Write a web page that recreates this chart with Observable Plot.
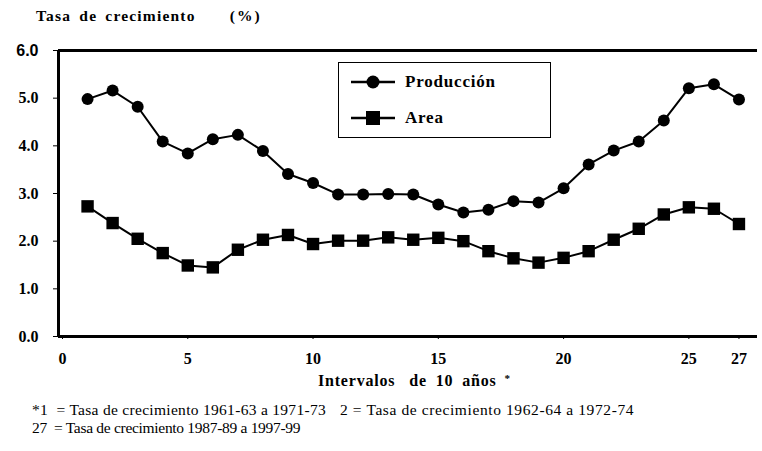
<!DOCTYPE html>
<html>
<head>
<meta charset="utf-8">
<script src="https://cdn.jsdelivr.net/npm/d3@7"></script>
<script src="https://cdn.jsdelivr.net/npm/@observablehq/plot@0.6"></script>
<style>
  body { margin: 0; background: #fff; }
  #wrap { position: relative; width: 762px; height: 451px; overflow: hidden; font-family: "Liberation Serif", "Times New Roman", serif; color: #000; }
  #title { height: 36px; padding-left: 36px; box-sizing: border-box; padding-top: 7px; font-weight: bold; font-size: 15.5px; letter-spacing: 1.2px; word-spacing: 3px; }
  #title .pct { margin-left: 26px; letter-spacing: 2px; }
  #xlabel { position: absolute; left: 318px; top: 372px; font-weight: bold; font-size: 16px; letter-spacing: 0.8px; word-spacing: 4px; }
  #xlabel .gap { display: inline-block; width: 14px; }
  #xlabel sup { font-size: 11px; margin-left: 8px; vertical-align: 4px; }
  #notes { font-size: 15.5px; padding-left: 32px; line-height: 18px; padding-top: 1px; }
  #notes .l1a { letter-spacing: 0.3px; }
  #notes .l1b { letter-spacing: 0.6px; }
  #notes .l2 { letter-spacing: -0.3px; }
  #notes span.gap { display: inline-block; width: 14px; }
  #legend { position: absolute; left: 338px; top: 62px; width: 213px; height: 76px; box-sizing: border-box; border: 1.5px solid #000; background: #fff; }
  #legend .row { position: absolute; left: 12px; height: 20px; display: flex; align-items: center; font-weight: bold; font-size: 17px; letter-spacing: 0.8px; }
  #legend svg { margin-right: 10px; }
  g[aria-label="y-axis tick label"] text:last-child { font-family: "Liberation Sans", sans-serif; }
</style>
</head>
<body>
<div id="wrap">
  <div id="title">Tasa de crecimiento <span class="pct">(%)</span></div>
  <div id="chart"></div>
  <div id="notes">
    <div><span class="l1a">*1&nbsp; = Tasa de crecimiento 1961-63 a 1971-73</span><span class="gap"></span><span class="l1b">2 = Tasa de crecimiento 1962-64 a 1972-74</span></div>
    <div class="l2">27&nbsp; = Tasa de crecimiento 1987-89 a 1997-99</div>
  </div>
  <div id="xlabel">Intervalos<span class="gap"></span>de 10 años<sup>*</sup></div>
  <div id="legend">
    <div class="row" style="top:9px"><svg width="44" height="16"><line x1="0" y1="8" x2="44" y2="8" stroke="#000" stroke-width="2.5"/><circle cx="22" cy="8" r="6.5" fill="#000"/></svg>Producción</div>
    <div class="row" style="top:45px"><svg width="44" height="16"><line x1="0" y1="8" x2="44" y2="8" stroke="#000" stroke-width="2.5"/><rect x="15" y="1" width="14" height="14" fill="#000"/></svg>Area</div>
  </div>
</div>
<script>
const intervals = [1,2,3,4,5,6,7,8,9,10,11,12,13,14,15,16,17,18,19,20,21,22,23,24,25,26,27];
const produccion = [4.98,5.16,4.82,4.09,3.84,4.14,4.23,3.89,3.41,3.22,2.98,2.98,2.99,2.98,2.77,2.60,2.66,2.84,2.81,3.11,3.61,3.90,4.09,4.53,5.21,5.29,4.97];
const area = [2.73,2.38,2.05,1.75,1.49,1.45,1.82,2.03,2.13,1.94,2.01,2.01,2.08,2.03,2.07,2.00,1.79,1.64,1.55,1.65,1.79,2.03,2.26,2.56,2.71,2.68,2.36];
const xTicks = [0,5,10,15,20,25,27];
const yTicks = [0,1,2,3,4,5,6];

const prodData = intervals.map((x, i) => ({x, y: produccion[i]}));
const areaData = intervals.map((x, i) => ({x, y: area[i]}));
const xDomain = [-0.16, 27.74];

const chart = Plot.plot({
  width: 762,
  height: 364,
  marginLeft: 58,
  marginRight: 5,
  marginTop: 14,
  marginBottom: 64,
  style: { fontSize: "16px", fontWeight: "bold", fontFamily: "'Liberation Serif', serif", background: "transparent" },
  x: { domain: xDomain },
  y: { domain: [0, 6] },
  marks: [
    Plot.axisX({ticks: xTicks, tickSize: 3, tickPadding: 13, label: null}),
    Plot.axisY({ticks: yTicks, tickSize: 5, tickPadding: 15, tickFormat: d3.format(".1f"), label: null}),
    Plot.ruleY([0], {stroke: "#000", strokeWidth: 3}),
    Plot.ruleY([6], {stroke: "#000", strokeWidth: 3}),
    Plot.ruleX([xDomain[0]], {stroke: "#000", strokeWidth: 3}),
    Plot.line(prodData, {x: "x", y: "y", stroke: "#000", strokeWidth: 2}),
    Plot.line(areaData, {x: "x", y: "y", stroke: "#000", strokeWidth: 2}),
    Plot.dot(prodData, {x: "x", y: "y", r: 6, fill: "#000", symbol: "circle"}),
    Plot.dot(areaData, {x: "x", y: "y", r: 7, fill: "#000", symbol: "square"})
  ]
});
document.getElementById("chart").appendChild(chart);
</script>
</body>
</html>
